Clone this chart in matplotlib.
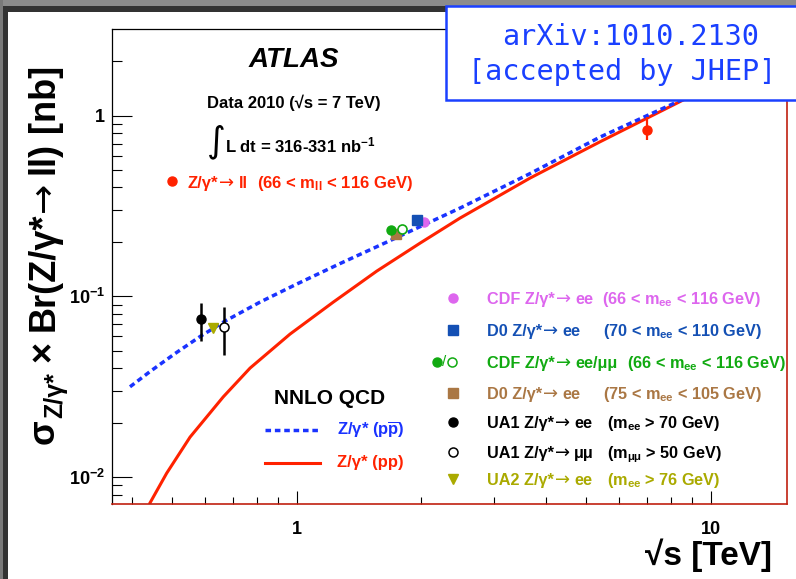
import matplotlib
matplotlib.use("Agg")
import matplotlib.pyplot as plt
from matplotlib.patches import Rectangle
from matplotlib.ticker import FixedLocator, FixedFormatter, NullFormatter

W, H = 796, 579

# NNLO QCD predictions (last point sits under the stamp)
ppbar_sqrts = [0.3957, 0.4422, 0.5082, 0.584, 0.6712, 0.8155, 1.0, 1.2724, 1.6805,
               2.4799, 3.6607, 5.4024, 8.2768, 10.0]
ppbar_sigma = [0.03159, 0.03835, 0.04824, 0.05989, 0.07295, 0.09293, 0.1169, 0.1518,
               0.2034, 0.3078, 0.4777, 0.7604, 1.1877, 1.449]
pp_sqrts = [0.4406, 0.4853, 0.5526, 0.6647, 0.7714, 0.9634, 1.2257, 1.5606, 1.9861,
            2.4799, 3.6607, 5.4024, 8.5734, 10.0]
pp_sigma = [0.00709, 0.01052, 0.01665, 0.0278, 0.04009, 0.06182, 0.09293, 0.1379, 0.197,
            0.271, 0.4511, 0.7162, 1.2186, 1.452]

# measurements
atlas_x, atlas_y, atlas_lo, atlas_hi = [7.02], [0.831], [0.73], [0.98]
cdf196_x, cdf196_y = [2.028], [0.2572]
d0196_x, d0196_y = [1.947], [0.266]
cdfee_x, cdfee_y = [1.687], [0.2325]
cdfmm_x, cdfmm_y, cdfmm_lo, cdfmm_hi = [1.796], [0.2346], [0.222], [0.248]
d018_x, d018_y = [1.736], [0.2202]
ua1ee_x, ua1ee_y, ua1ee_lo, ua1ee_hi = [0.587], [0.0746], [0.0568], [0.0914]
ua1mm_x, ua1mm_y, ua1mm_lo, ua1mm_hi = [0.667], [0.0673], [0.0473], [0.0869]
ua2_x, ua2_y = [0.627], [0.067]

x_minor = [0.4, 0.5, 0.6, 0.7, 0.8, 0.9, 2, 3, 4, 5, 6, 7, 8, 9]
y_minor = [0.008, 0.009] + [i / 100 for i in range(2, 10)] + [i / 10 for i in range(2, 10)] + [2]

RED = "#ff2200"
BLUE = "#1a33ff"
MAGENTA = "#dd66ee"
D0BLUE = "#1450b4"
GREEN = "#11aa11"
BROWN = "#aa7744"
OLIVE = "#aaaa00"

plt.rcParams["font.family"] = ["Liberation Sans", "DejaVu Sans"]
plt.rcParams["font.weight"] = "bold"
plt.rcParams["mathtext.default"] = "regular"


def fx(p):
    return p / W


def fy(p):
    return 1 - p / H


fig = plt.figure(figsize=(W / 100, H / 100), dpi=100, facecolor="white")
renderer = fig.canvas.get_renderer()


def text_run(x, py, parts, color, size):
    # parts: (text, gap in px before it, extra kwargs); baseline at py
    for s, gap, kw in parts:
        opts = dict(ha="left", va="baseline", fontsize=size, color=color)
        opts.update(kw)
        t = fig.text((x + gap) / W, fy(py), s, **opts)
        x = t.get_window_extent(renderer).x1
    return x


def text_run_up(px, py, parts, size):
    # same, rotated by 90 degrees and reading upwards from py
    y = H - py
    for s, gap, dx, kw in parts:
        opts = dict(ha="left", va="baseline", fontsize=size, rotation=90,
                    rotation_mode="anchor")
        opts.update(kw)
        t = fig.text((px + dx) / W, (y + gap) / H, s, **opts)
        y = t.get_window_extent(renderer).y1
    return y


ARW = dict(family="DejaVu Sans", weight="normal", fontsize=13)

# slide frame
fig.patches.append(Rectangle((0, fy(6.5)), 1, 6.5 / H, transform=fig.transFigure,
                             facecolor="#8c8c8c", edgecolor="none", zorder=0))
fig.patches.append(Rectangle((0, fy(12.3)), 1, 5.8 / H, transform=fig.transFigure,
                             facecolor="#333333", edgecolor="none", zorder=0))
fig.patches.append(Rectangle((0, 0), fx(2.7), 1, transform=fig.transFigure,
                             facecolor="#7a7a7a", edgecolor="none", zorder=0))
fig.patches.append(Rectangle((fx(2.7), 0), fx(5.6), fy(6.5), transform=fig.transFigure,
                             facecolor="#333333", edgecolor="none", zorder=0))

ax = fig.add_axes([fx(112), fy(504), fx(787.3) - fx(112), fy(29.3) - fy(504)])
ax.set_xscale("log")
ax.set_yscale("log")
ax.set_xlim(0.358, 15.3)
ax.set_ylim(0.0071, 3.0)

ax.plot(pp_sqrts, pp_sigma, color=RED, lw=2.2, solid_capstyle="butt", solid_joinstyle="round")
ax.plot(ppbar_sqrts, ppbar_sigma, color=BLUE, lw=2.5, linestyle=(0, (1.6, 1.1)))

ax.errorbar(atlas_x, atlas_y,
            yerr=[[atlas_y[0] - atlas_lo[0]], [atlas_hi[0] - atlas_y[0]]],
            fmt="o", color=RED, ms=6.5, elinewidth=1.6, capsize=0)
ax.plot(cdf196_x, cdf196_y, "o", color=MAGENTA, ms=6.5)
ax.plot(d0196_x, d0196_y, "s", color=D0BLUE, ms=6.5)
ax.plot(d018_x, d018_y, "s", color=BROWN, ms=6.5)
ax.plot(cdfee_x, cdfee_y, "o", color=GREEN, ms=6.5)
ax.errorbar(cdfmm_x, cdfmm_y,
            yerr=[[cdfmm_y[0] - cdfmm_lo[0]], [cdfmm_hi[0] - cdfmm_y[0]]],
            fmt="o", color=GREEN, mfc="white", mec=GREEN, mew=1.2, ms=6.5,
            elinewidth=1.2, capsize=0)
ax.errorbar(ua1ee_x, ua1ee_y,
            yerr=[[ua1ee_y[0] - ua1ee_lo[0]], [ua1ee_hi[0] - ua1ee_y[0]]],
            fmt="o", color="black", ms=6.5, elinewidth=1.8, capsize=0)
ax.errorbar(ua1mm_x, ua1mm_y,
            yerr=[[ua1mm_y[0] - ua1mm_lo[0]], [ua1mm_hi[0] - ua1mm_y[0]]],
            fmt="o", color="black", mfc="white", mew=1.1, ms=6.5,
            elinewidth=1.8, capsize=0)
ax.plot(ua2_x, ua2_y, "v", color=OLIVE, ms=7)

# axes style (ROOT like)
ax.xaxis.set_major_locator(FixedLocator([1, 10]))
ax.xaxis.set_major_formatter(FixedFormatter(["1", "10"]))
ax.xaxis.set_minor_locator(FixedLocator(x_minor))
ax.xaxis.set_minor_formatter(NullFormatter())
ax.yaxis.set_major_locator(FixedLocator([0.01, 0.1, 1]))
ax.yaxis.set_major_formatter(FixedFormatter(["$10^{-2}$", "$10^{-1}$", "1"]))
ax.yaxis.set_minor_locator(FixedLocator(y_minor))
ax.yaxis.set_minor_formatter(NullFormatter())
ax.tick_params(axis="x", which="major", direction="in", length=9.4, width=0.8, pad=12,
               labelsize=13, top=False)
ax.tick_params(axis="x", which="minor", direction="in", length=4.7, width=0.8, top=False)
ax.tick_params(axis="y", which="major", direction="in", length=14.4, width=0.8, pad=5,
               labelsize=13, right=False)
ax.tick_params(axis="y", which="minor", direction="in", length=7.2, width=0.8, right=False)
for side in ("left", "top"):
    ax.spines[side].set_color("black")
    ax.spines[side].set_linewidth(0.9)
for side in ("bottom", "right"):
    ax.spines[side].set_color("#c02010")
    ax.spines[side].set_linewidth(1.2)

# axis titles
text_run_up(54, 444, [
    ("σ", 0, 0, {}),
    ("Z/γ*", 1, 8, {"fontsize": 18}),
    ("×", 10, 0, {}),
    ("Br(Z/γ*", 10, 0, {}),
    ("→", 1, 0, {"family": "DejaVu Sans", "weight": "normal"}),
    ("ll)", 7, 0, {}),
    ("[nb]", 10, 0, {}),
], 26)
fig.text(fx(772), fy(555), "√s [TeV]", ha="right", va="center", fontsize=24)

# ATLAS annotations
fig.text(fx(294), fy(60), "ATLAS", ha="center", va="center", fontsize=20, style="italic")
fig.text(fx(293.5), fy(103), "Data 2010 (√s = 7 TeV)", ha="center", va="center", fontsize=12)
fig.text(fx(216), fy(142), "∫", ha="center", va="center", fontsize=26,
         family="DejaVu Sans", weight="normal")
fig.text(fx(225), fy(145), "L dt = 316-331 nb$^{-1}$", ha="left", va="center", fontsize=12)
ax.plot([fx(172)], [fy(181)], "o", color=RED, ms=6.5, transform=fig.transFigure, clip_on=False)
text_run(188, 188, [("Z/γ*", 0, {}), ("→", 1, ARW), ("ll", 4, {})], RED, 12)
fig.text(fx(257), fy(188), "(66 < m$_{ll}$ < 116 GeV)", ha="left", va="baseline",
         fontsize=12, color=RED)

# right legend
rows = [
    (298, "o", MAGENTA, "CDF Z/γ*", "ee", 602, "(66 < m$_{ee}$ < 116 GeV)"),
    (330, "s", D0BLUE, "D0 Z/γ*", "ee", 603, "(70 < m$_{ee}$ < 110 GeV)"),
    (362, None, GREEN, "CDF Z/γ*", "ee/μμ", 627, "(66 < m$_{ee}$ < 116 GeV)"),
    (393, "s", BROWN, "D0 Z/γ*", "ee", 603, "(75 < m$_{ee}$ < 105 GeV)"),
    (422, "o", "black", "UA1 Z/γ*", "ee", 607, "(m$_{ee}$ > 70 GeV)"),
    (452, "open", "black", "UA1 Z/γ*", "μμ", 607, "(m$_{μμ}$ > 50 GeV)"),
    (479, "v", OLIVE, "UA2 Z/γ*", "ee", 607, "(m$_{ee}$ > 76 GeV)"),
]
for py, mk, col, lab, fin, px2, rng in rows:
    if mk == "open":
        ax.plot([fx(453)], [fy(py)], "o", mfc="white", mec=col, mew=1.1, ms=6.5,
                transform=fig.transFigure, clip_on=False)
    elif mk is None:
        ax.plot([fx(437)], [fy(py)], "o", color=col, ms=6.5,
                transform=fig.transFigure, clip_on=False)
        ax.plot([fx(452)], [fy(py)], "o", mfc="white", mec=col, mew=1.1, ms=6.5,
                transform=fig.transFigure, clip_on=False)
        fig.text(fx(444.5), fy(py), "/", ha="center", va="center", fontsize=11, color=col,
                 weight="normal")
    else:
        ax.plot([fx(453)], [fy(py)], mk, color=col, ms=6.5,
                transform=fig.transFigure, clip_on=False)
    text_run(487, py + 6, [(lab, 0, {}), ("→", 1, ARW), (fin, 4, {})], col, 11.7)
    fig.text(fx(px2), fy(py + 6), rng, ha="left", va="baseline", fontsize=11.7, color=col)

# NNLO legend
fig.text(fx(330), fy(398), "NNLO QCD", ha="center", va="center", fontsize=15)
ax.plot([fx(265), fx(320)], [fy(430), fy(430)], color=BLUE, lw=2.5,
        linestyle=(0, (1.6, 1.1)), transform=fig.transFigure, clip_on=False)
fig.text(fx(337), fy(430), "Z/γ* (p$\\overline{p}$)", ha="left", va="center",
         fontsize=12, color=BLUE)
ax.plot([fx(265), fx(320)], [fy(463), fy(463)], color=RED, lw=2.2,
        transform=fig.transFigure, clip_on=False)
fig.text(fx(337), fy(463), "Z/γ* (pp)", ha="left", va="center", fontsize=12, color=RED)

# arXiv stamp
fig.patches.append(Rectangle((fx(446), fy(100)), fx(360), 94 / H, transform=fig.transFigure,
                             facecolor="white", edgecolor="#1a40ff", lw=1.8, zorder=5))
fig.text(fx(631), fy(37), "arXiv:1010.2130", ha="center", va="center", fontsize=20.5,
         family="DejaVu Sans Mono", weight="normal", color="#1a40ff", zorder=6)
fig.text(fx(622), fy(72), "[accepted by JHEP]", ha="center", va="center", fontsize=20.5,
         family="DejaVu Sans Mono", weight="normal", color="#1a40ff", zorder=6)

fig.savefig("out.png", dpi=100)
